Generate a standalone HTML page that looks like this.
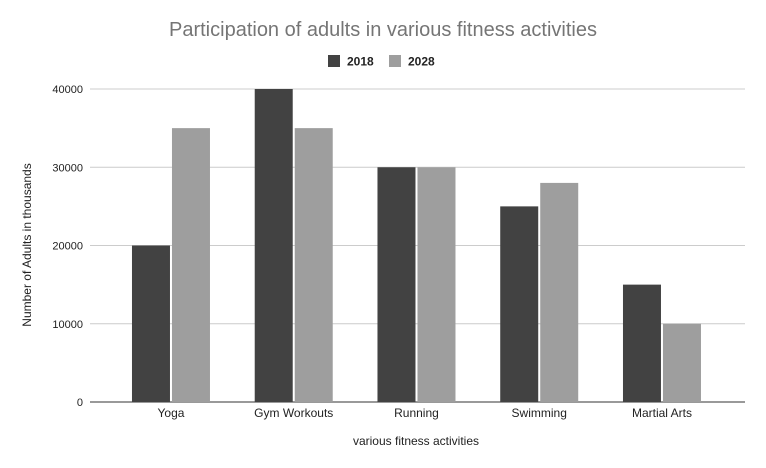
<!DOCTYPE html>
<html><head><meta charset="utf-8"><style>
body{margin:0;background:#fff;font-family:"Liberation Sans",Arial,sans-serif}
svg{display:block}
</style></head><body>
<svg id="chart" width="766" height="468" xmlns="http://www.w3.org/2000/svg">
<rect width="766" height="468" fill="#fff"/>
<text x="383" y="36" text-anchor="middle" font-size="20" fill="#757575">Participation of adults in various fitness activities</text>
<g>
<rect x="328" y="55" width="12" height="12" fill="#424242"/>
<text x="347" y="65.5" font-size="12" font-weight="bold" fill="#222">2018</text>
<rect x="389" y="55" width="12" height="12" fill="#9e9e9e"/>
<text x="408" y="65.5" font-size="12" font-weight="bold" fill="#222">2028</text>
</g>
<g id="grid"></g>
<g id="bars"></g>
<g id="xlabels"></g>
<text transform="translate(31,245) rotate(-90)" text-anchor="middle" font-size="12" fill="#222">Number of Adults in thousands</text>
<text x="416" y="445" text-anchor="middle" font-size="12" fill="#222">various fitness activities</text>
</svg>
<script>
const categories=["Yoga","Gym Workouts","Running","Swimming","Martial Arts"];
const series2018=[20000,40000,30000,25000,15000];
const series2028=[35000,35000,30000,28000,10000];
const yTicks=[0,10000,20000,30000,40000];
const NS="http://www.w3.org/2000/svg";
const left=90,right=745,y0=402,yTop=89,yMax=40000;
const y=v=>y0-(v/yMax)*(y0-yTop);
const bandStart=109.6,band=122.75;
const xc=i=>bandStart+band*(i+0.5);
function mk(t,a,p){const e=document.createElementNS(NS,t);for(const k in a)e.setAttribute(k,a[k]);p.appendChild(e);return e;}
const grid=document.getElementById('grid');
yTicks.forEach(v=>{
 const l=mk('line',{x1:left,x2:right,y1:y(v),y2:y(v),stroke:v===0?'#333':'#ccc','stroke-width':1},grid);
 
 
 const t=mk('text',{x:83,y:y(v)+4,'text-anchor':'end','font-size':11,fill:'#222'},grid);
 t.textContent=v;
 
 
});
const bars=document.getElementById('bars'),xl=document.getElementById('xlabels');
const bw=38,gap=2;
categories.forEach((c,i)=>{
 const cx=xc(i);
 const a=mk('rect',{x:cx-gap/2-bw,y:y(series2018[i]),width:bw,height:y0-y(series2018[i]),fill:'#424242'},bars);
 
 
 const b=mk('rect',{x:cx+gap/2,y:y(series2028[i]),width:bw,height:y0-y(series2028[i]),fill:'#9e9e9e'},bars);
 
 
 const t=mk('text',{x:cx,y:417,'text-anchor':'middle','font-size':12,fill:'#222'},xl);
 t.textContent=c;
 
 
});
</script>
</body></html>
